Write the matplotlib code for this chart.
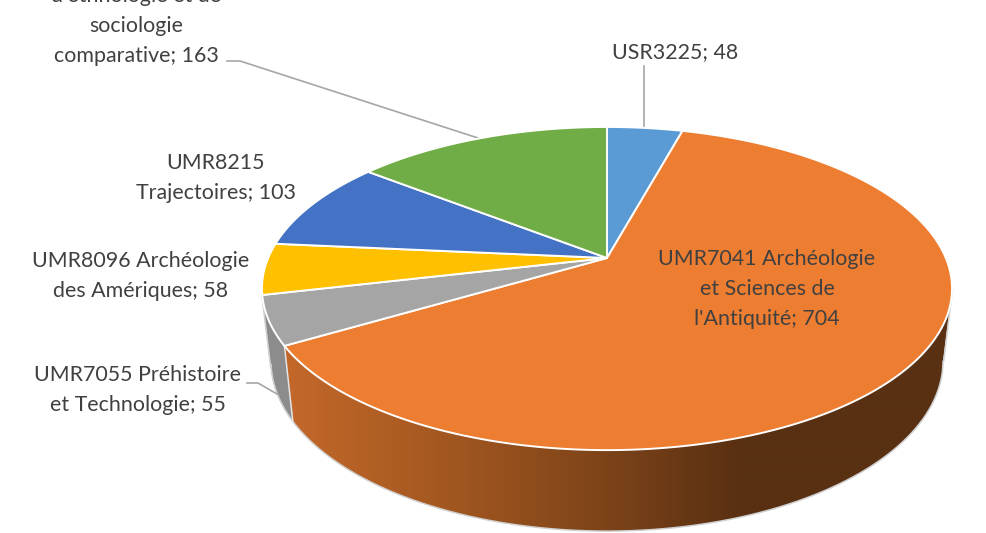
import numpy as np
import matplotlib
matplotlib.use("Agg")
import matplotlib.pyplot as plt
from matplotlib.patches import Polygon

labels = ["USR3225", "UMR7041", "UMR7055", "UMR8096", "UMR8215", "UMR7186"]
values = [48, 704, 55, 58, 103, 163]
top_colors = ["#5B9BD5", "#ED7D31", "#A5A5A5", "#FFC000", "#4472C4", "#70AD47"]

label_texts = [
    "USR3225; 48",
    "UMR7041 Archéologie\net Sciences de\nl'Antiquité; 704",
    "UMR7055 Préhistoire\net Technologie; 55",
    "UMR8096 Archéologie\ndes Amériques; 58",
    "UMR8215\nTrajectoires; 103",
    "d'ethnologie et de\nsociologie\ncomparative; 163",
]
label_pos = [(675, 52), (767, 289), (138, 390), (141, 276), (216, 178), (136, 26)]
leaders = [
    [(644, 66), (644, 129)],
    [(247, 383), (258, 383), (277, 394)],
    [(227, 61), (240, 61), (478, 138)],
]

plt.rcParams["font.family"] = ["Lato", "DejaVu Sans"]
fig = plt.figure(figsize=(9.87, 5.33), dpi=100)
ax = fig.add_axes([0, 0, 1, 1])
ax.axis("off")

CX, AY = 607.0, 258.0      # apex of the slices
K, RU, RV = 0.189, 338.8, 155.8
EX, EY, ERX, ERY = 607.0, 288.5, 345.0, 161.5
BY, BRX, BRY = 361.0, 336.0, 170.0


def top_pt(theta):
    u, v = np.sin(theta), np.cos(theta)
    d = 1 + K * v
    return CX + RU * u / d, AY - RV * v / d


def bottom_pt(theta):
    x, y = top_pt(theta)
    c, s = (x - EX) / ERX, (y - EY) / ERY
    return EX + BRX * c, BY + BRY * s


stops_x = [285, 450, 607, 740, 960]
stops_c = np.array([[0xC4, 0x68, 0x2A], [0xA2, 0x57, 0x20], [0x7C, 0x43, 0x19],
                    [0x59, 0x30, 0x12], [0x59, 0x30, 0x12]], float) / 255

angles = np.cumsum([0] + values) / sum(values) * 2 * np.pi
SILHOUETTE_R = np.radians(101.0)   # where the near wall starts to show


def wall_polygon(a, b):
    th = np.linspace(a, b, 200)
    xt, yt = top_pt(th)
    xb, yb = bottom_pt(th)
    return np.column_stack([np.r_[xt, xb[::-1]], np.r_[yt, yb[::-1]]])


# orange wall with a left-to-right shade
xs_grad = np.arange(260, 965)
grad = np.stack([np.interp(xs_grad, stops_x, stops_c[:, k]) for k in range(3)], axis=-1)[None, :, :]
wall_clip = Polygon(wall_polygon(SILHOUETTE_R, angles[2]), closed=True, transform=ax.transData,
                    facecolor="none", edgecolor="none")
ax.add_patch(wall_clip)
im = ax.imshow(grad, extent=(260, 965, 535, 280), aspect="auto", zorder=2, interpolation="bilinear")
im.set_clip_path(wall_clip)

# grey wall
ax.add_patch(Polygon(wall_polygon(angles[2], angles[3]), closed=True, facecolor="#8C8C8C",
                     edgecolor="#8C8C8C", lw=0.5, zorder=2))

ax.set_xlim(0, 987)
ax.set_ylim(533, 0)

# pale outline of the lower rim and silhouettes
outer_th = np.radians(np.linspace(101, 258, 400))
bx, by = bottom_pt(outer_th)
ax.plot(bx, by, color="#D0D0D0", lw=1.1, zorder=3)
ax.plot([top_pt(SILHOUETTE_R)[0] + 0.6, bottom_pt(SILHOUETTE_R)[0] + 0.6],
        [top_pt(SILHOUETTE_R)[1], bottom_pt(SILHOUETTE_R)[1]], color="#D0D0D0", lw=1.1, zorder=3)
xl0, yl0 = top_pt(angles[3])
xl1, yl1 = bottom_pt(angles[3])
ax.plot([xl0 - 0.5, xl1 - 0.5], [yl0, yl1], color="#D0D0D0", lw=1.1, zorder=3)

# edge between orange and grey walls
xe0, ye0 = top_pt(angles[2])
xe1, ye1 = bottom_pt(angles[2])
ax.plot([xe0, xe1], [ye0, ye1], color="#E4E4E4", lw=1.1, zorder=3)

# top faces
for i, (a, b) in enumerate(zip(angles[:-1], angles[1:])):
    th = np.linspace(a, b, max(int((b - a) * 120), 6))
    xs, ys = top_pt(th)
    pts = np.column_stack([np.r_[CX, xs], np.r_[AY, ys]])
    ax.add_patch(Polygon(pts, closed=True, facecolor=top_colors[i], edgecolor="white",
                         linewidth=1.4, joinstyle="round", zorder=4))

for line in leaders:
    xs, ys = zip(*line)
    ax.plot(xs, ys, color="#A6A6A6", lw=1.2, zorder=3.5)

for txt, (x, y) in zip(label_texts, label_pos):
    ax.text(x, y, txt, ha="center", va="center", fontsize=15.4, color="#404040",
            linespacing=1.6, zorder=6, clip_on=False)

fig.savefig("out.png", dpi=100, facecolor="white")
